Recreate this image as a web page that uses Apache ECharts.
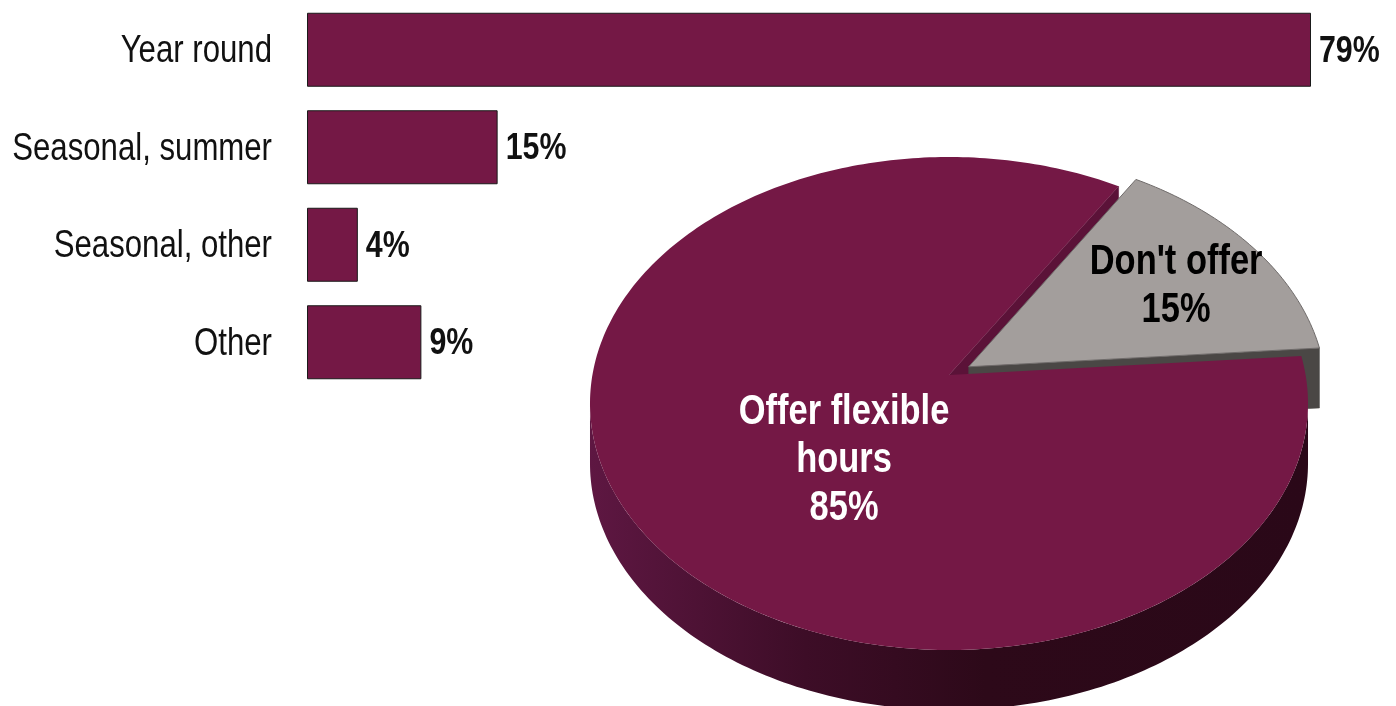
<!DOCTYPE html>
<html>
<head>
<meta charset="utf-8">
<style>
  html, body { margin: 0; padding: 0; background: #ffffff; }
  #chart { width: 1396px; height: 706px; }
</style>
<script src="https://cdn.jsdelivr.net/npm/echarts@6/dist/echarts.min.js"></script>
</head>
<body>
<div id="chart"></div>
<script>
// Schedule type breakdown (bars) and share offering flexible hours (pie)
const barCategories = ['Year round', 'Seasonal, summer', 'Seasonal, other', 'Other'];
const barValues = [79, 15, 4, 9];
const pieNames = ['Offer flexible\nhours', "Don't offer"];
const pieValues = [85, 15];

const FONT = "'Liberation Sans', Arial, sans-serif";
const NARROW = 0.82;           // horizontal squeeze giving a condensed face
const MAROON = '#741845';

// Tilted pie geometry (perspective ellipse)
const PIE = {
  cx: 949, cy: 375, rx: 356.6, ry: 243.2, k: 0.1156, depth: 60,
  startAngle: 4.5,
  explode: [0, 0.065],
  top: [MAROON, '#a39e9c'],
  topStroke: [null, '#6f6b6a'],
  radial: ['#5b1238', '#4a4745'],
  outer: [
    ['#5e1742', '#3d0d27', '#2d0919', '#2a0818'],
    ['#4a4745', '#4a4745', '#4a4745', '#4a4745']
  ],
  labelColor: ['#ffffff', '#000000'],
  labelRadius: [0.44, 0.70],
  labelShift: [18.5, -2]
};

const pieTotal = pieValues.reduce((s, v) => s + v, 0);
const slices = [];
(function () {
  let a = PIE.startAngle;
  pieValues.forEach((v) => {
    const a0 = a, a1 = a - v / pieTotal * 360;
    slices.push({ a0: a0, a1: a1, mid: (a0 + a1) / 2 });
    a = a1;
  });
})();

function project(deg, r, ex, ey, drop) {
  const t = deg * Math.PI / 180;
  const u = r * Math.cos(t) + ex;
  const v = -(r * Math.sin(t) + ey);
  const w = 1 - PIE.k * v;
  return [PIE.cx + PIE.rx * u / w, PIE.cy + PIE.ry * v / w + (drop || 0)];
}

function explodeOffset(i) {
  const e = PIE.explode[i] || 0;
  const m = slices[i].mid * Math.PI / 180;
  return [e * Math.cos(m), e * Math.sin(m)];
}

function arc(from, to, ex, ey, drop) {
  const n = Math.max(2, Math.ceil(Math.abs(from - to)));
  const pts = [];
  for (let j = 0; j <= n; j++) {
    pts.push(project(from + (to - from) * j / n, 1, ex, ey, drop));
  }
  return pts;
}

const FRONT_EDGE = Math.asin(PIE.k) * 180 / Math.PI;

function renderWalls(params, api) {
  const i = params.dataIndex;
  const s = slices[i];
  const [ex, ey] = explodeOffset(i);
  const children = [];
  // curved outer wall, only on the side facing the viewer
  for (let kk = -1; kk <= 1; kk++) {
    const lo = Math.max(s.a1, -180 + FRONT_EDGE + 360 * kk);
    const hi = Math.min(s.a0, -FRONT_EDGE + 360 * kk);
    if (lo < hi) {
      const topPts = arc(hi, lo, ex, ey, 0);
      const botPts = arc(lo, hi, ex, ey, PIE.depth);
      const c = PIE.outer[i];
      children.push({
        type: 'polygon',
        shape: { points: topPts.concat(botPts) },
        style: {
          fill: new echarts.graphic.LinearGradient(0, 0, 1, 0, [
            { offset: 0, color: c[0] },
            { offset: 0.3, color: c[1] },
            { offset: 0.55, color: c[2] },
            { offset: 1, color: c[3] }
          ])
        }
      });
    }
  }
  // flat cut faces along the slice edges
  [[s.a0, s.a0 + 90], [s.a1, s.a1 - 90]].forEach(([edge, normal]) => {
    if (Math.sin(normal * Math.PI / 180) < -0.01) {
      children.push({
        type: 'polygon',
        shape: {
          points: [
            project(edge, 0, ex, ey, 0),
            project(edge, 1, ex, ey, 0),
            project(edge, 1, ex, ey, PIE.depth),
            project(edge, 0, ex, ey, PIE.depth)
          ]
        },
        style: { fill: PIE.radial[i], stroke: PIE.radial[i], lineWidth: 0.5 }
      });
    }
  });
  return { type: 'group', children: children };
}

function renderTops(params, api) {
  const i = params.dataIndex;
  const s = slices[i];
  const [ex, ey] = explodeOffset(i);
  const pts = [project(0, 0, ex, ey, 0)].concat(arc(s.a0, s.a1, ex, ey, 0));
  const lp = project(s.mid + PIE.labelShift[i], PIE.labelRadius[i], ex, ey, 0);
  const stroke = PIE.topStroke[i];
  return {
    type: 'group',
    children: [
      {
        type: 'polygon',
        shape: { points: pts },
        style: stroke ? { fill: PIE.top[i], stroke: stroke, lineWidth: 1 } : { fill: PIE.top[i] }
      },
      {
        type: 'text',
        x: lp[0], y: lp[1], scaleX: NARROW,
        style: {
          text: pieNames[i] + '\n' + api.value(0) + '%',
          x: 0, y: 0,
          align: 'center', verticalAlign: 'middle',
          fill: PIE.labelColor[i],
          fontSize: 42, fontWeight: 'bold', fontFamily: FONT,
          lineHeight: 48
        }
      }
    ]
  };
}

// category names and value labels beside each bar
function renderBarText(params, api) {
  const i = params.dataIndex;
  const v = api.value(0);
  const base = api.coord([0, api.value(1)]);
  const end = api.coord([v, api.value(1)]);
  return {
    type: 'group',
    children: [
      {
        type: 'text',
        x: base[0] - 35, y: base[1] + 2, scaleX: NARROW,
        style: {
          text: barCategories[i], x: 0, y: 0,
          align: 'right', verticalAlign: 'middle',
          fill: '#111111', fontSize: 38, fontFamily: FONT
        }
      },
      {
        type: 'text',
        x: end[0] + 8, y: base[1] + 2, scaleX: NARROW,
        style: {
          text: v + '%', x: 0, y: 0,
          align: 'left', verticalAlign: 'middle',
          fill: '#111111', fontSize: 37, fontWeight: 'bold', fontFamily: FONT
        }
      }
    ]
  };
}

const chart = echarts.init(document.getElementById('chart'), null, { renderer: 'canvas' });
chart.setOption({
  animation: false,
  backgroundColor: '#ffffff',
  grid: { left: 307, right: 85, top: 1, height: 390, outerBoundsMode: 'none', containLabel: false },
  xAxis: { type: 'value', min: 0, max: 79, show: false },
  yAxis: {
    type: 'category',
    data: barCategories,
    inverse: true,
    axisLine: { show: false },
    axisTick: { show: false },
    axisLabel: { show: false }
  },
  series: [
    {
      type: 'bar',
      data: barValues,
      barWidth: 74,
      itemStyle: { color: MAROON, borderColor: '#1a1a1a', borderWidth: 1 }
    },
    {
      type: 'custom',
      data: barValues.map((v, i) => [v, i]),
      encode: { x: 0, y: 1 },
      z: 5,
      renderItem: renderBarText
    },
    {
      type: 'custom',
      coordinateSystem: 'none',
      z: 3,
      data: pieValues,
      renderItem: renderWalls
    },
    {
      type: 'custom',
      coordinateSystem: 'none',
      z: 4,
      data: pieValues,
      renderItem: renderTops
    }
  ]
});
</script>
</body>
</html>
